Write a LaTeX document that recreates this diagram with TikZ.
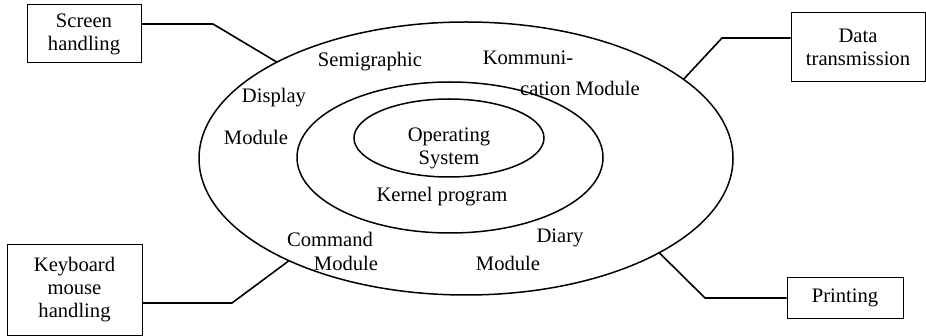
\documentclass[tikz,border=0pt]{standalone}
\usepackage{fontspec}
\setmainfont{Liberation Serif}
\usepackage{tikz}
\usetikzlibrary{shapes.geometric,calc}

\begin{document}
\begin{tikzpicture}
  [
    x=0.5pt, y=-0.5pt,
    font=\fontsize{10.3}{11.5}\selectfont,
    block/.style =
      {draw, rectangle, align=center, line width=0.5pt, inner sep=0pt},
    ring/.style =
      {draw, ellipse, line width=0.75pt, inner sep=0pt, outer sep=0pt},
    lbl/.style =
      {inner sep=0pt, align=center},
    wire/.style =
      {line width=0.8pt, line join=round}
  ]
  \useasboundingbox (0,0) rectangle (926,336);

  \node [ring, minimum width=267pt, minimum height=136.5pt] at (466,158.5) (outer) {};
  \node [ring, minimum width=153pt, minimum height=75.5pt]  at (450,157.5) (mid) {};
  \node [ring, minimum width=95pt,  minimum height=39pt]    at (449,138)   (inner) {};

  \node [lbl] at (449,148) (os)     {Operating\\System};
  \node [lbl] at (442,197) (kernel) {Kernel program};

  \node [lbl] at (370,62)  (semi)   {Semigraphic};
  \node [lbl] at (528,58)  (komm1)  {Kommuni-};
  \node [lbl] at (580,88)  (komm2)  {cation Module};
  \node [lbl] at (274,98)  (disp1)  {Display};
  \node [lbl] at (256,137) (disp2)  {Module};
  \node [lbl] at (330,239) (cmd1)   {Command};
  \node [lbl] at (346,263) (cmd2)   {Module};
  \node [lbl] at (560,238) (diary1) {Diary};
  \node [lbl] at (508,263) (diary2) {Module};

  \node [block, minimum width=57pt,   minimum height=29pt]   at (84,34)    (screen) {Screen\\handling};
  \node [block, minimum width=67pt,   minimum height=34.5pt] at (858,47.5) (data)   {Data\\transmission};
  \node [block, minimum width=67.5pt, minimum height=45pt]   at (74.5,290) (keyb)   {Keyboard\\mouse\\handling};
  \node [block, minimum width=58pt,   minimum height=20pt]   at (845,298)  (print)  {Printing};

  \coordinate (sbend) at (213,24);
  \coordinate (dbend) at (722,38);
  \coordinate (kbend) at (232,303);
  \coordinate (pbend) at (705,298);

  \draw[wire] (screen.east |- sbend) -- (sbend) -- (outer.153.5);
  \draw[wire] (data.west |- dbend)   -- (dbend) -- (outer.20.8);
  \draw[wire] (keyb.east |- kbend)   -- (kbend) -- (outer.210.4);
  \draw[wire] (print.west)           -- (pbend) -- (outer.334.1);

\end{tikzpicture}
\end{document}
